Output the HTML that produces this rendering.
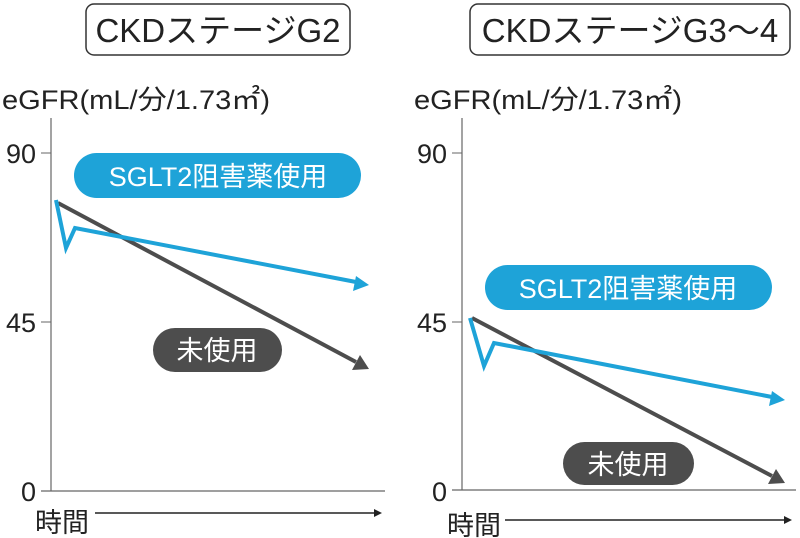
<!DOCTYPE html>
<html><head><meta charset="utf-8"><style>
body{margin:0;background:#fff;}
svg{display:block;font-family:"Liberation Sans","Noto Sans CJK JP",sans-serif;}
</style></head><body>
<svg width="800" height="538" viewBox="0 0 800 538" xmlns="http://www.w3.org/2000/svg">
<defs>
<marker id="ab" markerWidth="5" markerHeight="5" refX="3" refY="2.5" orient="auto" markerUnits="userSpaceOnUse" viewBox="0 0 5 5"><path d="M0,0 L5,2.5 L0,5 z" fill="#1ea3d8"/></marker>
<marker id="ak" markerWidth="8" markerHeight="8" refX="6" refY="4" orient="auto" markerUnits="userSpaceOnUse"><path d="M0,0 L8,4 L0,8 z" fill="#222"/></marker>
</defs>
<!-- Left panel -->
<rect x="86" y="4" width="264" height="51" rx="8" fill="#fff" stroke="#333" stroke-width="1.5"/>
<text x="218" y="42" font-size="33" text-anchor="middle" fill="#222">CKDステージG2</text>
<text x="2" y="109" font-size="27" textLength="268" lengthAdjust="spacingAndGlyphs" fill="#222">eGFR(mL/分/1.73㎡)</text>
<line x1="51" y1="118" x2="51" y2="491" stroke="#666" stroke-width="1.2"/>
<line x1="41" y1="491" x2="385" y2="491" stroke="#666" stroke-width="1.2"/>
<line x1="41" y1="153" x2="51" y2="153" stroke="#666"/>
<line x1="41" y1="322" x2="51" y2="322" stroke="#666"/>
<text x="36" y="163" font-size="27" text-anchor="end" fill="#222">90</text>
<text x="36" y="332" font-size="27" text-anchor="end" fill="#222">45</text>
<text x="36" y="501" font-size="27" text-anchor="end" fill="#222">0</text>
<text x="35" y="532" font-size="27" fill="#222">時間</text>
<line x1="95" y1="513" x2="380" y2="513" stroke="#222" stroke-width="1.5" marker-end="url(#ak)"/>
<rect x="74" y="153" width="287" height="45" rx="22.5" fill="#1ea3d8"/>
<text x="218" y="186" font-size="27" text-anchor="middle" fill="#fff">SGLT2阻害薬使用</text>
<line x1="58" y1="203" x2="356" y2="362" stroke="#4d4d4d" stroke-width="4"/>
<path d="M369,369 L352,370 L360,355 z" fill="#4d4d4d"/>
<polyline points="56,200 66,248 75,228 356,282" fill="none" stroke="#1ea3d8" stroke-width="4"/>
<path d="M369,285 L353,291 L356,276 z" fill="#1ea3d8"/>
<rect x="153" y="328" width="129" height="44" rx="22" fill="#4d4d4d"/>
<text x="217" y="360" font-size="27" text-anchor="middle" fill="#fff">未使用</text>
<!-- Right panel -->
<rect x="470" y="4" width="320" height="51" rx="8" fill="#fff" stroke="#333" stroke-width="1.5"/>
<text x="630" y="42" font-size="33" text-anchor="middle" fill="#222">CKDステージG3〜4</text>
<text x="414" y="109" font-size="27" textLength="268" lengthAdjust="spacingAndGlyphs" fill="#222">eGFR(mL/分/1.73㎡)</text>
<line x1="462" y1="118" x2="462" y2="490" stroke="#666" stroke-width="1.2"/>
<line x1="452" y1="490" x2="796" y2="490" stroke="#666" stroke-width="1.2"/>
<line x1="452" y1="153" x2="462" y2="153" stroke="#666"/>
<line x1="452" y1="322" x2="462" y2="322" stroke="#666"/>
<text x="447" y="163" font-size="27" text-anchor="end" fill="#222">90</text>
<text x="447" y="332" font-size="27" text-anchor="end" fill="#222">45</text>
<text x="447" y="501" font-size="27" text-anchor="end" fill="#222">0</text>
<text x="447" y="535" font-size="27" fill="#222">時間</text>
<line x1="505" y1="520" x2="790" y2="520" stroke="#222" stroke-width="1.5" marker-end="url(#ak)"/>
<rect x="485" y="265" width="287" height="45" rx="22.5" fill="#1ea3d8"/>
<text x="628" y="298" font-size="27" text-anchor="middle" fill="#fff">SGLT2阻害薬使用</text>
<line x1="472" y1="318" x2="772" y2="476" stroke="#4d4d4d" stroke-width="4"/>
<path d="M785,483 L768,484 L776,469 z" fill="#4d4d4d"/>
<polyline points="470,318 484,366 494,343 772,397" fill="none" stroke="#1ea3d8" stroke-width="4"/>
<path d="M785,400 L769,406 L772,391 z" fill="#1ea3d8"/>
<rect x="563" y="442" width="131" height="43" rx="21.5" fill="#4d4d4d"/>
<text x="628" y="474" font-size="27" text-anchor="middle" fill="#fff">未使用</text>
</svg>
</body></html>
